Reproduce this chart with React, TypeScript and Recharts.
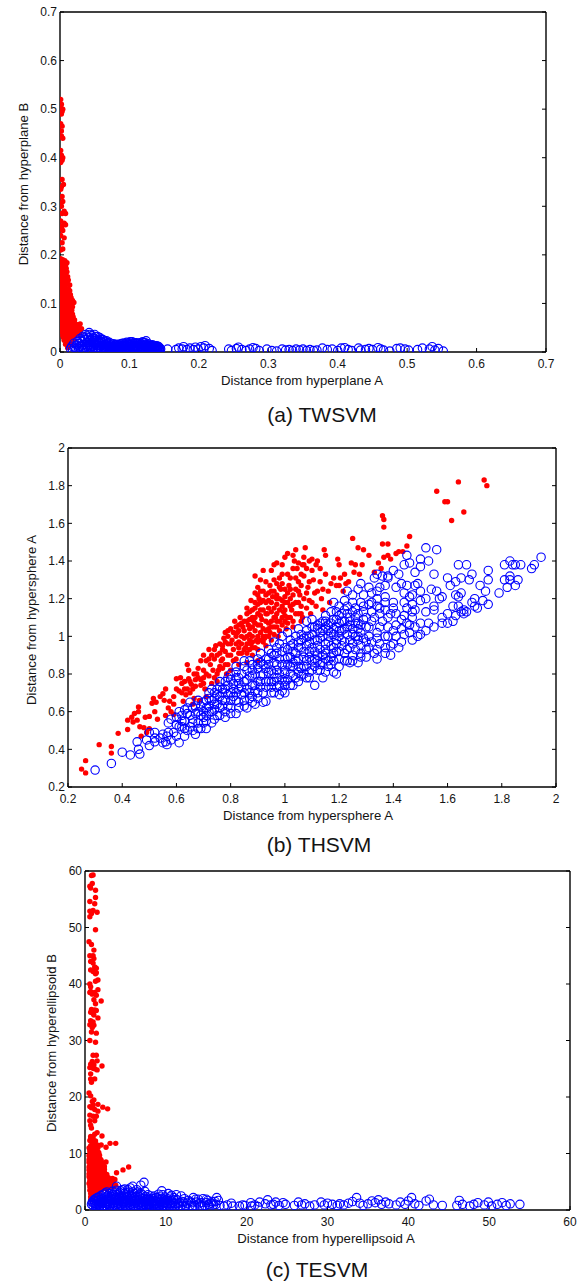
import { Scatter, ScatterChart, XAxis, YAxis } from 'recharts';

type Pair = number[];

const twsvmTicks = [0, 0.1, 0.2, 0.3, 0.4, 0.5, 0.6, 0.7];
const thsvmTicks = [0.2, 0.4, 0.6, 0.8, 1, 1.2, 1.4, 1.6, 1.8, 2];
const tesvmTicks = [0, 10, 20, 30, 40, 50, 60];

// values
const twsvmRed: Pair[] = [
  [.001,.52],[.002,.51],[.001,.505],[.003,.495],[.002,.49],[.004,.5],[.001,.47],[.003,.465],[.002,.455],[.004,.44],[.002,.445],
  [.001,.415],[.002,.405],[.003,.395],[.001,.39],[.004,.4],[.003,.355],[.002,.34],[.005,.345],[.001,.335],[.003,.32],[.001,.305],
  [.004,.31],[.002,.3],[.006,.29],[.003,.285],[.008,.285],[.001,.27],[.003,.26],[.006,.265],[.008,.262],[.002,.255],[.004,.25],
  [.001,.24],[.006,.235],[.003,.225],[.004,.212],[.001,.21],[.001,.192],[.004,.19],[.007,.188],[.01,.184],[.003,.18],[.006,.176],
  [.009,.172],[.001,.17],[.004,.165],[.008,.16],[.011,.155],[.002,.158],[.006,.15],[.012,.148],[.001,.148],[.004,.142],[.009,.143],
  [.002,.135],[.007,.135],[.012,.13],[.001,.128],[.005,.126],[.01,.122],[.003,.118],[.007,.118],[.012,.115],[.001,.112],[.016,.112],
  [.018,.106],[.014,.104],[.02,.102],[.005,.108],[.009,.107],[.016,.098],[.002,.1],[.007,.098],[.012,.096],[.001,.09],[.004,.09],
  [.009,.088],[.014,.086],[.017,.086],[.002,.082],[.006,.08],[.011,.078],[.001,.072],[.004,.07],[.008,.07],[.013,.07],[.019,.072],
  [.016,.064],[.002,.064],[.006,.06],[.011,.06],[.021,.06],[.025,.056],[.029,.058],[.001,.054],[.004,.05],[.008,.05],[.013,.05],
  [.018,.052],[.022,.05],[.027,.05],[.031,.048],[.002,.042],[.006,.04],[.01,.04],[.015,.042],[.02,.042],[.025,.042],[.029,.04],
  [.004,.034],[.008,.03],[.012,.032],[.017,.034],[.022,.034],[.006,.024],[.01,.022],[.014,.024],[.019,.026],[.008,.016],[.012,.012],
  [.016,.016],[.011,.009],
];
const twsvmRedCore: Pair[] = [
  [.002,.186],[.005,.182],[.008,.178],[.003,.172],[.006,.168],[.01,.165],[.002,.164],[.005,.158],[.009,.152],[.003,.15],[.007,.144],[.011,.14],[.014,.138],
  [.003,.138],[.005,.133],[.009,.13],[.014,.126],[.002,.124],[.007,.124],[.011,.118],[.015,.118],[.004,.114],[.008,.112],[.013,.109],[.017,.103],[.003,.105],
  [.006,.103],[.01,.1],[.014,.094],[.018,.093],[.003,.095],[.007,.092],[.011,.09],[.015,.08],[.005,.084],[.009,.082],[.013,.076],[.018,.078],[.003,.077],[.007,.075],
  [.011,.068],[.015,.072],[.021,.066],[.004,.063],[.008,.064],[.014,.058],[.018,.06],[.023,.053],[.003,.048],[.006,.052],[.011,.054],[.016,.046],[.02,.047],[.024,.046],
  [.004,.044],[.008,.044],[.012,.044],[.007,.036],[.01,.034],[.015,.036],[.019,.036],[.026,.037],[.005,.03],[.009,.026],[.013,.027],[.017,.03],
];
const twsvmBlue: Pair[] = [
  [.015,.007],[.018,.004],[.022,.003],[.017,.012],[.021,.01],[.02,.018],[.024,.014],[.025,.022],[.027,.008],[.028,.018],[.029,.028],
  [.03,.003],[.031,.012],[.032,.022],[.033,.032],[.034,.007],[.035,.016],[.036,.026],[.037,.036],[.038,.004],[.039,.012],[.04,.02],
  [.041,.03],[.042,.04],[.043,.008],[.044,.016],[.045,.026],[.046,.034],[.047,.003],[.048,.012],[.049,.02],[.05,.036],[.05,.028],
  [.051,.006],[.052,.014],[.053,.024],[.054,.032],[.055,.004],[.056,.01],[.057,.018],[.058,.027],[.059,.022],[.06,.006],[.061,.014],
  [.062,.025],[.063,.019],[.064,.003],[.065,.009],[.066,.016],[.067,.023],[.068,.005],[.069,.012],[.07,.018],[.071,.003],[.072,.009],
  [.073,.014],[.074,.006],[.075,.011],[.076,.004],[.077,.008],[.078,.013],[.079,.003],[.08,.007],[.081,.012],[.082,.016],[.083,.004],
  [.084,.009],[.085,.014],[.086,.006],[.087,.011],[.088,.017],[.089,.003],[.09,.008],[.091,.013],[.092,.018],[.093,.005],[.094,.01],
  [.095,.015],[.096,.02],[.097,.003],[.098,.008],[.099,.013],[.1,.018],[.101,.006],[.102,.011],[.103,.016],[.104,.021],[.105,.004],
  [.106,.009],[.107,.014],[.108,.019],[.109,.006],[.11,.012],[.111,.017],[.112,.004],[.113,.009],[.114,.014],[.115,.019],[.116,.006],
  [.117,.011],[.118,.016],[.119,.021],[.12,.004],[.121,.009],[.122,.014],[.123,.019],[.124,.023],[.125,.007],[.126,.012],[.127,.017],
  [.128,.004],[.129,.009],[.13,.014],[.131,.006],[.132,.011],[.133,.015],[.134,.004],[.135,.008],[.136,.012],[.137,.005],[.138,.009],
  [.139,.013],[.14,.004],[.141,.008],[.142,.011],[.143,.005],[.144,.008],[.145,.006],[.155,.006],[.167,.005],[.171,.008],[.176,.006],
  [.178,.011],[.183,.005],[.187,.008],[.192,.005],[.195,.01],[.199,.006],[.203,.011],[.207,.008],[.209,.013],[.215,.007],[.219,.003],
  [.243,.006],[.247,.003],[.254,.007],[.257,.01],[.262,.005],[.268,.003],[.273,.006],[.278,.009],[.282,.007],[.287,.003],[.298,.006],
  [.305,.003],[.312,.002],[.32,.006],[.325,.004],[.33,.005],[.335,.003],[.34,.006],[.345,.004],[.35,.006],[.355,.003],[.36,.005],
  [.365,.003],[.37,.004],[.378,.008],[.385,.005],[.392,.006],[.4,.003],[.405,.008],[.41,.009],[.415,.005],[.42,.003],[.43,.008],
  [.433,.004],[.44,.005],[.445,.007],[.45,.005],[.458,.009],[.462,.006],[.466,.004],[.475,.002],[.485,.007],[.49,.008],[.497,.006],
  [.502,.004],[.515,.005],[.522,.008],[.532,.006],[.536,.011],[.54,.004],[.545,.007],[.552,.002],
];
const twsvmBlueCore: Pair[] = [
  [.023,.007],[.026,.017],[.028,.012],[.03,.024],[.032,.005],[.033,.015],[.035,.029],[.036,.01],[.038,.019],[.039,.033],[.04,.007],[.041,.015],
  [.042,.024],[.043,.036],[.044,.004],[.045,.011],[.046,.021],[.047,.029],[.048,.008],[.049,.016],[.05,.024],[.051,.032],[.052,.009],[.053,.019],
  [.054,.005],[.055,.014],[.056,.022],[.057,.03],[.058,.007],[.059,.013],[.06,.02],[.061,.026],[.062,.01],[.063,.006],[.064,.015],[.065,.022],
  [.066,.004],[.067,.011],[.068,.018],[.069,.007],[.07,.013],[.071,.02],[.072,.005],[.073,.01],[.074,.016],[.075,.007],[.076,.012],[.077,.017],
  [.078,.005],[.079,.01],[.08,.015],[.081,.004],[.082,.009],[.083,.013],[.084,.006],[.085,.011],[.086,.016],[.087,.004],[.088,.008],[.089,.013],
  [.09,.018],[.091,.006],[.092,.011],[.093,.016],[.094,.004],[.095,.008],[.096,.013],[.097,.018],[.098,.005],[.099,.01],[.1,.015],[.101,.021],
  [.102,.007],[.103,.012],[.104,.018],[.105,.005],[.106,.011],[.107,.017],[.108,.008],[.109,.013],[.11,.019],[.111,.005],[.112,.01],[.113,.016],
  [.114,.006],[.115,.012],[.116,.017],[.117,.004],[.118,.009],[.119,.014],[.12,.019],[.121,.006],[.122,.012],[.123,.016],[.124,.004],[.125,.01],
  [.126,.015],[.127,.007],[.128,.012],[.129,.005],[.13,.01],[.131,.013],[.132,.005],[.133,.009],[.134,.013],[.135,.006],[.136,.01],[.137,.007],
  [.138,.012],[.139,.005],[.14,.009],[.141,.012],[.142,.006],[.144,.004],
];

const thsvmRed: Pair[] = [
  [.25,.295],[.265,.275],[.265,.34],[.315,.425],[.36,.415],[.36,.38],[.385,.485],[.42,.505],[.42,.555],[.435,.57],[.445,.59],[.46,.6],
  [.46,.625],[.455,.555],[.44,.545],[.47,.47],[.465,.52],[.48,.515],[.49,.49],[.5,.51],[.485,.57],[.5,.575],[.52,.6],[.53,.56],[.51,.645],
  [.525,.65],[.515,.67],[.54,.68],[.55,.695],[.56,.72],[.555,.66],[.57,.62],[.58,.6],[.56,.58],[.59,.585],[.575,.655],[.59,.68],[.6,.72],
  [.6,.775],[.615,.78],[.62,.75],[.63,.72],[.635,.69],[.65,.7],[.625,.655],[.66,.64],[.665,.67],[.645,.82],[.64,.85],[.645,.775],[.655,.745],
  [.67,.735],[.675,.8],[.68,.83],[.665,.8],[.69,.77],[.7,.75],[.705,.72],[.71,.68],[.685,.66],[.69,.87],[.7,.9],[.72,.93],[.71,.87],[.725,.85],
  [.735,.82],[.74,.78],[.75,.76],[.755,.82],[.745,.95],[.76,.96],[.77,.93],[.75,.9],[.765,.87],[.78,.85],[.785,.8],[.79,.9],[.775,.99],
  [.78,1.02],[.79,.96],[.8,1.04],[.805,.98],[.81,.93],[.82,.88],[.815,1.08],[.825,1.02],[.83,.97],[.84,.91],[.845,1.05],[.835,1.1],[.85,.99],
  [.855,.94],[.86,1.12],[.865,1.06],[.87,1.01],[.875,.96],[.88,.9],[.86,1.15],[.88,1.14],[.885,1.08],[.89,1.03],[.895,.98],[.9,.93],[.875,1.19],
  [.89,1.23],[.905,1.2],[.91,1.14],[.915,1.09],[.92,1.04],[.925,.99],[.93,.95],[.9,1.26],[.91,1.3],[.92,1.24],[.93,1.18],[.935,1.12],[.94,1.07],
  [.945,1.02],[.95,.98],[.93,1.29],[.945,1.27],[.955,1.21],[.96,1.15],[.965,1.1],[.97,1.05],[.975,1.0],[.89,1.32],[.92,1.35],[.95,1.35],[.96,1.3],
  [.98,1.31],[.985,1.25],[.99,1.19],[.995,1.13],[1.0,1.08],[1.005,1.04],[.97,1.39],[.99,1.38],[1.0,1.42],[1.01,1.44],[1.01,1.33],[1.015,1.27],
  [1.02,1.2],[1.025,1.14],[1.03,1.08],[1.035,1.4],[1.04,1.46],[1.045,1.36],[1.05,1.29],[1.055,1.22],[1.06,1.16],[1.065,1.1],[1.065,1.38],[1.07,1.32],
  [1.075,1.47],[1.08,1.36],[1.085,1.26],[1.09,1.19],[1.095,1.12],[1.09,1.4],[1.1,1.35],[1.105,1.3],[1.11,1.23],[1.115,1.16],[1.115,1.38],[1.12,1.4],
  [1.13,1.29],[1.135,1.2],[1.14,1.14],[1.145,1.46],[1.15,1.43],[1.15,1.33],[1.16,1.24],[1.165,1.18],[1.18,1.31],[1.19,1.27],[1.195,1.41],[1.2,1.38],
  [1.205,1.31],[1.215,1.24],[1.225,1.28],[1.235,1.29],[1.245,1.39],[1.25,1.52],[1.255,1.34],[1.26,1.38],[1.27,1.47],[1.275,1.33],[1.285,1.38],
  [1.29,1.46],[1.31,1.43],[1.33,1.34],[1.345,1.39],[1.355,1.36],[1.36,1.64],[1.365,1.62],[1.365,1.58],[1.36,1.49],[1.38,1.49],[1.365,1.42],[1.38,1.43],
  [1.39,1.41],[1.41,1.44],[1.42,1.45],[1.435,1.45],[1.45,1.48],[1.46,1.53],[1.56,1.77],[1.59,1.715],[1.6,1.715],[1.64,1.82],[1.735,1.83],
  [1.745,1.8],[1.66,1.66],[1.615,1.615],[.8,.82],[.83,.85],[.86,.86],[.88,.97],[.9,.87],[.91,.98],[.95,1.13],[.97,1.17],[.98,1.08],[.99,1.28],
  [1.02,1.31],[1.04,1.25],[1.06,1.33],[1.08,1.23],[.84,1.0],[.87,1.09],[.83,1.06],[.82,.96],[.91,1.18],[.94,1.23],[.93,1.08],[.97,1.22],[1.0,1.18],
];
const thsvmRedCore: Pair[] = [
  [.77,.95],[.79,1.0],[.8,.9],[.81,1.02],[.82,1.05],[.83,.91],[.84,.96],[.85,1.08],[.86,1.0],[.86,.91],[.87,1.04],[.87,1.13],[.88,.94],[.88,1.05],
  [.89,1.18],[.89,1.1],[.9,1.0],[.9,1.06],[.9,1.17],[.91,1.24],[.91,1.06],[.92,1.14],[.92,.97],[.93,1.03],[.93,1.22],[.94,1.15],[.94,1.0],[.95,1.08],
  [.95,1.18],[.96,1.05],[.96,1.24],[.97,1.12],[.97,1.28],[.98,1.03],[.98,1.2],[.99,1.1],[.99,1.33],[1.0,1.25],[1.0,1.14],[1.01,1.07],[1.01,1.18],
  [1.02,1.1],[1.02,1.25],[1.03,1.36],[1.03,1.17],[1.04,1.12],[1.04,1.31],[1.05,1.18],[1.06,1.27],[1.06,1.12],[1.07,1.2],[1.07,1.38],[1.08,1.15],
  [.74,.88],[.73,.9],[.72,.88],[.76,.84],[.77,.88],[.78,.92],[.79,.85],[.68,.78],[.66,.72],[.7,.82],[.72,.79],[.73,.75],[.63,.76],[.61,.71],[.59,.64],
  [1.1,1.18],[1.12,1.24],[1.13,1.36],[1.14,1.25],[1.17,1.28],[1.2,1.27],[1.22,1.33],[1.09,1.29],[1.1,1.41],[1.07,1.42],[1.05,1.39],[1.03,1.43],[.96,1.38],
  [.74,.93],[.76,.91],[.77,.83],[.78,.97],[.79,1.03],[.8,.96],[.81,.87],[.82,1.0],[.83,1.03],[.83,.94],[.84,1.07],[.85,.93],[.85,1.03],[.86,.96],[.86,1.08],[.87,.98],
  [.87,.93],[.88,1.1],[.88,1.0],[.89,.94],[.89,1.07],[.89,1.15],[.9,1.12],[.9,.97],[.9,1.22],[.91,1.02],[.91,1.11],[.92,1.0],[.92,1.19],[.93,1.12],[.93,1.0],[.94,1.04],
  [.94,1.19],[.95,1.05],[.95,1.24],[.96,1.1],[.96,1.01],[.97,1.08],[.97,1.2],[.98,1.14],[.98,1.26],[.99,1.06],[.99,1.16],[1.0,1.11],[1.0,1.21],[1.01,1.1],[1.01,1.23],
  [1.02,1.16],[1.03,1.05],[1.03,1.22],[1.04,1.18],[1.05,1.12],[1.05,1.24],[1.06,1.08],[.7,.78],[.71,.8],[.69,.74],[.67,.77],[.65,.76],[.62,.7],[.64,.72],[.75,.8],
];
const thsvmBlue: Pair[] = [
  [.3,.29],[.36,.325],[.4,.385],[.43,.37],[.465,.375],[.46,.4],[.455,.44],[.5,.42],[.49,.45],[.5,.49],[.52,.49],[.52,.46],[.55,.435],[.565,.425],
  [.56,.44],[.565,.47],[.57,.49],[.61,.435],[.6,.47],[.63,.47],[.57,.54],[.61,.52],[.62,.55],[.64,.5],[.67,.48],[.65,.52],[.71,.51],[.69,.51],
  [.73,.54],[.7,.54],[.68,.54],[.66,.56],[.64,.59],[.62,.58],[.61,.6],[.66,.62],[.69,.58],[.72,.6],[.7,.65],[.75,.58],[.78,.6],[.82,.59],[.76,.62],
  [.8,.62],[.74,.64],[.72,.67],[.74,.7],[.77,.66],[.79,.69],[.82,.66],[.86,.62],[.89,.64],[.92,.65],[.93,.655],[.87,.67],[.85,.7],[.84,.73],[.81,.75],
  [.78,.76],[.76,.73],[.8,.8],[.83,.78],[.86,.77],[.89,.74],[.9,.7],[.96,.7],[.98,.69],[1.0,.7],[.95,.73],[.93,.76],[.91,.79],[.88,.82],[.85,.84],
  [.82,.84],[.87,.87],[.9,.85],[.93,.83],[.96,.8],[.99,.77],[1.02,.74],[1.05,.76],[1.08,.78],[1.11,.74],[1.03,.79],[1.0,.82],[.97,.85],[.94,.88],
  [.91,.91],[.94,.93],[.97,.91],[1.0,.88],[1.03,.86],[1.06,.83],[1.09,.81],[1.14,.78],[1.18,.81],[1.19,.8],[1.16,.84],[1.13,.85],[1.1,.87],[1.07,.89],
  [1.04,.91],[1.01,.93],[.98,.96],[.96,.97],[.99,1.0],[1.01,1.02],[1.04,1.0],[1.03,.96],[1.06,.94],[1.09,.92],[1.12,.9],[1.15,.88],[1.2,.84],[1.22,.87],
  [1.24,.86],[1.27,.86],[1.3,.89],[1.34,.88],[1.39,.9],[1.28,.91],[1.25,.9],[1.23,.93],[1.2,.92],[1.18,.91],[1.15,.93],[1.12,.95],[1.09,.97],[1.07,.99],
  [1.05,1.04],[1.08,1.03],[1.1,1.01],[1.13,.99],[1.16,.97],[1.19,.96],[1.22,.97],[1.25,.96],[1.28,.95],[1.31,.94],[1.34,.93],[1.37,.94],[1.4,.96],
  [1.43,.97],[1.26,1.0],[1.23,1.01],[1.2,1.0],[1.17,1.02],[1.14,1.03],[1.11,1.05],[1.08,1.08],[1.1,1.09],[1.13,1.07],[1.16,1.06],[1.19,1.05],[1.22,1.04],
  [1.25,1.04],[1.28,1.02],[1.31,1.0],[1.34,.99],[1.37,1.0],[1.4,1.03],[1.43,1.04],[1.46,1.02],[1.47,.98],[1.5,1.01],[1.52,1.03],[1.55,1.05],[1.48,1.05],
  [1.45,1.07],[1.43,1.09],[1.3,1.05],[1.27,1.07],[1.24,1.08],[1.21,1.08],[1.18,1.09],[1.15,1.11],[1.17,1.13],[1.2,1.11],[1.23,1.12],[1.26,1.1],[1.29,1.09],
  [1.32,1.08],[1.35,1.05],[1.38,1.05],[1.41,1.06],[1.44,1.11],[1.47,1.1],[1.5,1.07],[1.53,1.07],[1.58,1.07],[1.6,1.07],[1.62,1.08],[1.58,1.1],[1.6,1.12],
  [1.63,1.11],[1.65,1.13],[1.67,1.13],[1.66,1.12],[1.55,1.14],[1.52,1.13],[1.48,1.14],[1.45,1.15],[1.41,1.12],[1.38,1.1],[1.35,1.12],[1.32,1.13],[1.29,1.13],
  [1.26,1.15],[1.23,1.16],[1.2,1.16],[1.18,1.18],[1.22,1.19],[1.25,1.18],[1.28,1.18],[1.31,1.17],[1.34,1.16],[1.37,1.14],[1.4,1.15],[1.44,1.18],[1.47,1.17],
  [1.5,1.19],[1.52,1.2],[1.55,1.16],[1.57,1.2],[1.62,1.16],[1.64,1.16],[1.66,1.14],[1.7,1.16],[1.71,1.15],[1.75,1.17],[1.73,1.19],[1.7,1.2],[1.69,1.18],
  [1.79,1.23],[1.74,1.24],[1.72,1.27],[1.82,1.26],[1.85,1.27],[1.81,1.3],[1.83,1.32],[1.86,1.3],[1.83,1.3],[1.85,1.38],[1.87,1.38],[1.83,1.4],[1.81,1.38],
  [1.84,1.38],[1.91,1.36],[1.92,1.38],[1.945,1.42],[1.75,1.3],[1.75,1.35],[1.69,1.33],[1.68,1.3],[1.65,1.31],[1.63,1.29],[1.61,1.27],[1.65,1.23],[1.63,1.22],
  [1.64,1.21],[1.6,1.31],[1.55,1.33],[1.64,1.38],[1.67,1.38],[1.56,1.46],[1.52,1.47],[1.53,1.4],[1.5,1.41],[1.5,1.37],[1.46,1.39],[1.45,1.43],[1.48,1.34],
  [1.44,1.38],[1.42,1.33],[1.4,1.35],[1.43,1.28],[1.45,1.27],[1.41,1.26],[1.38,1.31],[1.37,1.27],[1.48,1.27],[1.49,1.28],[1.47,1.22],[1.44,1.23],[1.4,1.18],
  [1.37,1.21],[1.34,1.2],[1.35,1.26],[1.32,1.23],[1.29,1.22],[1.28,1.28],[1.31,1.26],[1.33,1.31],[1.34,1.33],[1.36,1.32],[1.38,1.32],[1.27,1.25],[1.25,1.22],
  [1.23,1.24],[1.5,1.24],[1.54,1.25],[1.56,1.24],[1.58,1.21],[.58,.56],[.6,.57],[.63,.61],[.65,.65],[.67,.59],[.71,.62],[.73,.66],[.75,.69],[.77,.72],[.73,.72],
  [.79,.74],[.83,.72],[.8,.77],[.82,.81],[.88,.79],[.91,.76],[.95,.76],[.85,.87],[.9,.88],[.92,.85],[.94,.81],[.97,.78],[1.0,.76],[1.02,.8],[1.05,.81],[1.07,.84],
  [1.03,.84],[1.01,.85],[.98,.88],[.96,.9],[.99,.92],[1.02,.89],[1.05,.88],[1.08,.87],[1.11,.84],[1.12,.82],[1.15,.81],[1.02,.95],[1.05,.97],[1.08,.95],[1.11,.92],
  [1.14,.9],[1.17,.89],[1.06,1.01],[1.09,1.0],[1.12,.98],[1.15,.96],[1.18,.94],[1.21,.95],[1.24,.98],[1.27,.98],[1.3,.97],[1.13,1.02],[1.16,1.0],[1.19,.98],[1.12,1.06],
  [1.15,1.05],[1.18,1.04],[1.21,1.03],[1.14,1.08],[1.17,1.07],[1.2,1.07],[1.24,1.06],[1.27,1.04],[1.19,1.13],[1.22,1.14],[1.25,1.13],
];
const thsvmBlueCore: Pair[] = [
  [.62,.52],[.63,.55],[.64,.62],[.65,.58],[.66,.54],[.67,.63],[.68,.6],[.68,.66],[.69,.63],[.7,.57],[.7,.6],[.71,.66],[.71,.58],[.72,.63],[.72,.7],[.73,.6],
  [.74,.67],[.74,.61],[.75,.64],[.75,.72],[.76,.68],[.76,.76],[.77,.63],[.77,.7],[.78,.72],[.78,.66],[.79,.78],[.79,.63],[.8,.7],[.8,.66],[.81,.72],[.81,.68],[.82,.78],
  [.82,.7],[.83,.75],[.83,.65],[.84,.8],[.84,.69],[.85,.76],[.85,.66],[.86,.82],[.86,.72],[.87,.79],[.87,.7],[.88,.85],[.88,.74],[.88,.68],[.89,.8],[.89,.71],[.9,.83],
  [.9,.76],[.9,.67],[.91,.86],[.91,.73],[.92,.8],[.92,.7],[.93,.88],[.93,.73],[.94,.85],[.94,.76],[.95,.91],[.95,.82],[.95,.7],[.96,.86],[.96,.76],[.97,.94],[.97,.82],
  [.97,.73],[.98,.8],[.98,.74],[.99,.85],[.99,.71],[1.0,.94],[1.0,.8],[1.0,.74],[1.01,.89],[1.01,.77],[1.02,.98],[1.02,.84],[1.03,.92],[1.03,.74],[1.04,.87],[1.04,.78],
  [1.05,.94],[1.05,.84],[1.06,.98],[1.06,.79],[1.07,.92],[1.07,.8],[1.08,1.0],[1.08,.84],[1.09,.89],[1.09,.78],[1.1,1.05],[1.1,.94],[1.1,.82],[1.11,.98],[1.11,.88],
  [1.12,1.04],[1.12,.87],[1.13,.93],[1.13,.82],[1.14,1.0],[1.14,.86],[1.15,1.08],[1.15,.91],[1.16,1.03],[1.16,.87],[1.17,.95],[1.17,.85],[1.18,1.01],[1.18,.87],[1.19,1.09],
  [1.19,.92],[1.2,1.03],[1.2,.88],[1.21,1.12],[1.21,.98],[1.22,1.08],[1.22,.91],[1.23,1.05],[1.23,.87],[1.24,1.1],[1.24,.94],[1.25,1.01],[1.25,.87],[1.26,1.07],[1.26,.93],
  [1.27,1.12],[1.27,1.0],[1.28,1.06],[1.28,.89],[1.29,1.16],[1.29,.99],[1.3,1.1],[1.3,.93],[1.31,1.05],[1.32,1.18],[1.32,.97],[1.33,1.1],[1.33,.91],[1.34,1.02],[1.35,1.15],
  [1.35,.96],[1.36,1.08],[1.37,1.18],[1.37,.91],[1.38,1.0],[1.39,1.12],[1.39,.95],[1.41,1.0],[1.42,.94],[1.44,1.01],[1.46,1.06],[1.47,1.13],[1.49,1.0],[1.46,1.21],[1.34,1.24],
  [.52,.44],[.54,.46],[.55,.48],[.58,.45],[.59,.49],[.6,.53],[.63,.51],[.66,.5],[.68,.51],[.71,.55],[.74,.56],[.76,.58],[.78,.57],[.8,.59],[.83,.62],[.85,.63],[.88,.65],
];

const tesvmRed: Pair[] = [
  [.8,59.2],[1,59.3],[.6,57.3],[.9,57.8],[.7,57],[1.3,56.6],[.6,54.6],[1.3,55.3],[1.2,54.2],[.6,52.9],[1,53],[.8,52.5],[.6,51.9],[1.5,52.7],[1.3,49.6],
  [.5,47.5],[.8,47],[1.1,46],[.6,45],[1,45],[1.1,44.5],[.7,44],[1,43.7],[1.2,43],[1.4,42.8],[.7,42.5],[1,42.2],[1.4,42],[1.3,41.8],[1.6,40.7],[1.3,40.5],[.6,40],
  [.7,39.5],[1.6,39],[.6,38.5],[.9,38.2],[1.2,38.5],[1.4,38],[.7,38.7],[2,37],[1.1,37.2],[1.3,36.5],[.8,35.5],[1.2,35.4],[1.4,35.3],[.7,35],[1,34.8],[1.1,34.5],
  [1.6,34],[.7,33.5],[1,33.3],[.6,32.8],[1.1,32.7],[.9,32.3],[.8,31.5],[1.4,31.3],[.6,30],[1.3,29.7],[1,27.4],[1.4,27.4],[.9,26.3],[1.5,26.4],[.7,25.8],[1.1,25.7],
  [2.1,25.5],[.6,25.2],[1,25.1],[1.2,25],[1.5,24.8],[.7,24.1],[.7,23.2],[1.2,23.2],[.8,22.6],[.5,20.7],[.7,20.2],[1.1,19.5],[.9,19.2],[1,18.6],[1.6,18.7],[.6,18.3],
  [.8,18.1],[2.2,18.2],[2.8,17.9],[1.2,17.8],[1.6,17.5],[.6,16.8],[1,16.6],[1.4,16.6],[.6,15.8],[1.2,15.8],[.7,15],[.8,14.5],[1.5,13.7],[1.2,13.4],[2.1,13.1],[.7,13],
  [1,12.8],[.6,12.3],[1.3,12.2],[3.1,11.8],[3.8,11.8],[.9,11.8],[1.5,11.5],[2,11.5],[.5,11],[.8,11],[1.2,10.9],[2.6,11.1],[.6,10.3],[1,10.4],[1.7,10.2],[.5,9.6],[.8,9.7],
  [1.2,9.6],[1.8,9.7],[.6,9],[1,8.9],[1.4,8.9],[2,8.8],[2.6,8.5],[.5,8.4],[.8,8.3],[1.2,8.2],[1.7,8.3],[5.4,7.6],[.6,7.7],[1,7.6],[1.5,7.7],[2.1,7.6],[4.7,7.1],[.5,7.1],
  [.8,7],[1.3,7],[1.8,7],[.7,6.4],[1.1,6.4],[1.6,6.4],[2.4,6.7],[3.9,6.6],[.5,5.9],[.9,5.9],[1.3,5.8],[1.8,5.9],[2.4,5.8],[.6,5.3],[1,5.3],[1.5,5.3],[2.1,5.4],[2.9,5.7],
  [3.4,5.6],[3.7,5.4],[.5,4.7],[.8,4.7],[1.2,4.7],[1.7,4.7],[2.3,4.8],[2.9,4.9],[3.3,4.8],[.6,4.1],[1,4.1],[1.4,4.1],[2,4.2],[2.6,4.3],[3.2,4.2],[3.8,4.4],[.6,3.5],[1,3.5],
  [1.5,3.6],[2.1,3.7],[2.7,3.7],[.7,2.9],[1.1,2.9],[1.6,3],[.7,2.3],[1.1,2.4],[.7,1.8],
];
const tesvmRedCore: Pair[] = [
  [.7,12.6],[1,12.2],[1.3,11.6],[.7,11.4],[1.1,11.2],[1.6,11],[.6,10.7],[.9,10.6],[1.3,10.3],[1.5,9.9],[.7,10],[1.1,9.9],[.9,9.4],[1.4,9.4],[1.6,9.1],[.7,9.2],[1.2,9],[1.9,9],
  [.5,8.9],[.9,8.6],[1.5,8.4],[2.2,8.3],[.7,8],[1.1,7.8],[1.4,8],[1.9,7.8],[2.4,7.7],[.5,7.6],[.9,7.3],[1.3,7.4],[1.6,7.2],[2,7.1],[2.4,7.2],[.6,6.7],[.9,6.7],[1.3,6.4],[1.9,6.5],
  [2.2,6.2],[2.7,6.3],[.5,6.4],[.7,6],[1.1,5.9],[1.5,5.9],[2,6],[2.6,5.6],[3,5.3],[.8,5.4],[1.3,5.3],[1.7,5.3],[2.3,5.3],[2.7,5.1],[3.3,5.2],[.6,4.9],[1,4.8],[1.5,4.8],[2,4.9],[2.6,4.7],
  [3.1,4.6],[3.5,4.6],[.8,4.4],[1.2,4.4],[1.7,4.4],[2.3,4.4],[2.9,4.3],[3.5,4.1],[.8,3.9],[1.2,3.9],[1.8,3.9],[2.4,3.9],[.8,3.3],[1.3,3.3],[1.8,3.4],[.9,2.7],[1.4,2.8],[.9,2.1],
];
const tesvmBlue: Pair[] = [
  [.8,1],[.9,1.4],[1,.8],[1.1,1.8],[1.2,1.1],[1.3,.7],[1.4,1.5],[1.5,2.2],[1.6,.9],[1.7,1.3],[1.8,.6],[1.9,1.8],[2,2.6],[2.1,1.1],[2.2,.7],[2.3,1.6],[2.4,2.3],[2.5,3],
  [2.6,.8],[2.7,1.2],[2.8,1.9],[2.9,2.6],[3,.6],[3.1,1.1],[3.2,1.7],[3.3,2.4],[3.4,3.3],[3.5,.9],[3.6,1.4],[3.7,2.1],[3.8,2.8],[3.9,4.2],[4,.6],[4.1,1.2],[4.2,1.8],[4.3,2.5],
  [4.4,3.4],[4.5,.8],[4.6,1.4],[4.7,2.1],[4.8,2.9],[4.9,3.7],[5,.6],[5.1,1.1],[5.2,1.7],[5.3,2.4],[5.4,3.2],[5.5,.9],[5.6,1.4],[5.7,2],[5.8,2.8],[5.9,4.2],[6,.6],[6.1,1.1],
  [6.2,1.7],[6.3,2.4],[6.4,3.6],[6.5,.8],[6.6,1.3],[6.7,1.9],[6.8,2.7],[6.9,4.4],[7,.6],[7.1,1.1],[7.2,1.6],[7.3,4.9],[7.4,2.1],[7.5,.8],[7.6,1.3],[7.7,1.8],[7.8,2.7],[7.9,.6],
  [8,1],[8.1,1.5],[8.2,2.1],[8.3,.7],[8.4,1.2],[8.5,1.7],[8.6,2.5],[8.7,.6],[8.8,1],[8.9,1.5],[9,2.1],[9.1,2.8],[9.2,.8],[9.3,1.3],[9.4,1.9],[9.5,3.4],[9.6,.6],[9.7,1.1],[9.8,1.6],
  [9.9,2.3],[10,.8],[10.1,1.3],[10.2,2],[10.3,2.9],[10.4,.6],[10.5,1.1],[10.6,1.7],[10.7,2.6],[10.8,.8],[10.9,1.4],[11,2.2],[11.1,.6],[11.2,1.1],[11.4,1.8],[11.6,.7],[11.7,1.3],
  [11.9,2.5],[12,.8],[12.2,1.4],[12.4,.7],[12.6,1.2],[12.8,1.7],[13,.8],[13.2,1.3],[13.4,2.2],[13.6,.8],[13.8,1.4],[14,1.9],[14.2,.7],[14.4,1.3],[14.6,2],[14.8,.8],[15,1.3],[15.2,1.7],
  [15.4,.7],[15.6,1.2],[15.9,.9],[16.1,1.5],[16.3,2.2],[16.5,1.7],[16.7,.8],[17.2,.7],[17.6,.9],[18.1,1.2],[18.3,.7],[19.1,.7],[19.5,.9],[19.8,.8],[20.5,1.3],[20.6,.7],[21,.9],[21.4,.6],
  [21.6,1.4],[22.3,1.1],[22.6,1.8],[23,.9],[23.3,1],[23.6,1.4],[24,.8],[24.5,1.3],[24.8,1],[25.9,.8],[26.4,1.4],[26.8,.9],[27.2,1.1],[27.8,.7],[28.4,.9],[29.2,1.4],[29.6,.9],[30,1.2],
  [30.6,1],[31.2,.8],[31.5,1.1],[32,.9],[32.6,1.2],[33.1,1.5],[33.6,2.2],[34,1.2],[34.4,.8],[35,1.1],[35.5,1.6],[35.9,1.3],[36.3,1.8],[36.7,1],[37.2,1.4],[37.6,1.1],[38.5,.9],[39,1.4],
  [39.6,1],[40,1.6],[40.4,2.2],[40.8,1.1],[41.3,.8],[42.2,1.6],[42.6,1.9],[43.1,.9],[44.2,.8],[46,.8],[46.3,1.7],[46.7,1],[47.6,.7],[48.1,1],[48.6,1.3],[49.4,.9],[49.9,1.4],[50.3,.7],
  [51,1],[51.6,1.3],[52.1,.8],[52.6,1.1],[53.8,1],
];
const tesvmBlueCore: Pair[] = [
  [1,1.3],[1.2,1.7],[1.3,2],[1.4,1],[1.5,.7],[1.6,1.7],[1.7,2.3],[1.8,1.1],[1.9,.8],[2,1.5],[2,2.1],[2.1,1.9],[2.2,1.2],[2.3,2.8],[2.4,.7],[2.4,1.3],[2.5,1.8],[2.6,2.3],[2.7,3.2],[2.7,.6],
  [2.8,1],[2.9,1.5],[3,2.2],[3,2.9],[3.1,.7],[3.2,1.2],[3.3,1.9],[3.4,2.7],[3.4,.6],[3.5,1.2],[3.6,1.8],[3.6,2.5],[3.7,3.2],[3.8,.7],[3.8,1.4],[3.9,2.2],[3.9,3.5],[4,1],[4,1.7],[4.1,2.8],
  [4.2,.6],[4.2,1.4],[4.3,2.1],[4.3,3.1],[4.4,.9],[4.5,1.7],[4.5,2.4],[4.6,3.6],[4.6,.6],[4.7,1.2],[4.8,1.8],[4.8,2.5],[4.9,.8],[5,1.5],[5,2.1],[5,3.1],[5.1,2.8],[5.2,.7],[5.3,1.3],[5.3,3.6],
  [5.4,1.9],[5.5,2.6],[5.6,.6],[5.6,3.9],[5.7,1],[5.8,1.7],[5.8,2.3],[5.9,3.2],[6,.8],[6,1.4],[6.1,2.1],[6.2,2.9],[6.2,.6],[6.3,1.2],[6.4,1.9],[6.5,2.5],[6.5,3.2],[6.6,.6],[6.7,1],[6.7,1.6],
  [6.8,2.3],[6.9,.8],[6.9,3],[7,1.4],[7.1,2],[7.1,2.7],[7.2,.6],[7.3,1],[7.4,1.5],[7.4,3.3],[7.5,2.4],[7.6,.6],[7.7,1],[7.8,1.5],[7.8,2.1],[7.9,1],[8,.6],[8,1.8],[8.1,2.5],[8.2,.9],[8.3,1.3],
  [8.4,2],[8.5,.7],[8.6,1.1],[8.7,1.6],[8.8,2.2],[8.9,.8],[9,1.2],[9.1,1.8],[9.2,.6],[9.3,2.3],[9.4,1],[9.5,1.5],[9.6,2.7],[9.7,.8],[9.8,1.2],[10,1.8],[10.1,.6],[10.2,1.1],[10.3,1.6],[10.5,2.3],
  [10.6,.8],[10.8,1.2],[11,1.8],[11.2,.7],[11.3,2.7],[11.5,1.1],[11.8,.6],[12,1.5],[12.3,2],[12.5,.8],[13,1.5],[13.3,.7],[13.7,1.9],[14.1,1.1],[14.5,.7],[15,1.9],[15.3,1],[15.7,1.5],[16.2,1],
];

const FONT = '"Liberation Sans", Arial, sans-serif';
const INK = '#141414';

function RedDot(props: any) {
  return <circle cx={props.cx} cy={props.cy} r={2.7} fill="#ff0000" />;
}

function BlueRing(props: any) {
  return <circle cx={props.cx} cy={props.cy} r={4.2} fill="none" stroke="#0000ff" strokeWidth={1.1} />;
}

function toPoints(pairs: Pair[]) {
  return pairs.map(([x, y]) => ({ x, y }));
}

function Panel(props: any) {
  const { top, left, right, height, ticks, xLabel, yLabel, red, blue, caption, xLabelX, yLabelX, captionX, captionY } = props;
  const domain = [ticks[0], ticks[ticks.length - 1]];
  const tickStyle = { fontFamily: FONT, fontSize: 12, fill: INK };
  const axisLine = { stroke: '#000', strokeWidth: 1.4 };
  const tickLine = { stroke: '#000', strokeWidth: 1 };
  const plotW = right - left;
  const noLabel = () => '';
  return (
    <>
      <div style={{ position: 'absolute', top, left: 0 }}>
        <ScatterChart
          width={586}
          height={height + 32}
          margin={{ top: 5, right: 586 - right - 1, bottom: 25, left: 0 }}
        >
          <XAxis
            type="number"
            dataKey="x"
            domain={domain}
            ticks={ticks}
            interval={0}
            height={1}
            tickSize={-4}
            tickMargin={11}
            tick={tickStyle}
            axisLine={axisLine}
            tickLine={tickLine}
            allowDataOverflow
          />
          <XAxis
            xAxisId="top"
            orientation="top"
            type="number"
            domain={domain}
            ticks={ticks}
            interval={0}
            height={1}
            tickSize={-4}
            tickFormatter={noLabel}
            axisLine={axisLine}
            tickLine={tickLine}
            allowDataOverflow
          />
          <YAxis
            type="number"
            dataKey="y"
            domain={domain}
            ticks={ticks}
            interval={0}
            width={left}
            tickSize={-4}
            tickMargin={7}
            tick={tickStyle}
            axisLine={axisLine}
            tickLine={tickLine}
            allowDataOverflow
          />
          <YAxis
            yAxisId="right"
            orientation="right"
            type="number"
            domain={domain}
            ticks={ticks}
            interval={0}
            width={1}
            tickSize={-4}
            tickFormatter={noLabel}
            axisLine={axisLine}
            tickLine={tickLine}
            allowDataOverflow
          />
          <Scatter data={toPoints(red)} shape={RedDot} isAnimationActive={false} />
          <Scatter data={toPoints(blue)} shape={BlueRing} isAnimationActive={false} />
        </ScatterChart>
      </div>
      <div style={{ position: 'absolute', top: top + height + 27, left: xLabelX - plotW / 2, width: plotW, textAlign: 'center', fontFamily: FONT, fontSize: 13.2, color: INK, whiteSpace: 'nowrap' }}>
        {xLabel}
      </div>
      <div style={{ position: 'absolute', top: top + height / 2 + 8, left: yLabelX, width: 0, height: 0 }}>
        <div style={{ position: 'absolute', transform: 'translate(-50%, -50%) rotate(-90deg)', fontFamily: FONT, fontSize: 13.2, color: INK, whiteSpace: 'nowrap' }}>
          {yLabel}
        </div>
      </div>
      <div style={{ position: 'absolute', top: captionY, left: captionX - 150, width: 300, textAlign: 'center', fontFamily: FONT, fontSize: 21, color: INK }}>
        {caption}
      </div>
    </>
  );
}

export default function App() {
  return (
    <div style={{ position: 'absolute', top: 0, left: 0, width: 586, height: 1282, background: '#fff', overflow: 'hidden' }}>
      <Panel top={6} left={60} right={546} height={340} ticks={twsvmTicks} red={[...twsvmRed, ...twsvmRedCore]} blue={[...twsvmBlue, ...twsvmBlueCore]}
        xLabel="Distance from hyperplane A" yLabel="Distance from hyperplane B" caption="(a) TWSVM"
        xLabelX={302} yLabelX={23} captionX={322} captionY={403} />
      <Panel top={442} left={68} right={556} height={339} ticks={thsvmTicks} red={[...thsvmRed, ...thsvmRedCore]} blue={[...thsvmBlue, ...thsvmBlueCore]}
        xLabel="Distance from hypersphere A" yLabel="Distance from hypersphere A" caption="(b) THSVM"
        xLabelX={308} yLabelX={31} captionX={319} captionY={833} />
      <Panel top={865} left={85} right={570} height={339} ticks={tesvmTicks} red={[...tesvmRed, ...tesvmRedCore]} blue={[...tesvmBlue, ...tesvmBlueCore]}
        xLabel="Distance from hyperellipsoid A" yLabel="Distance from hyperellipsoid B" caption="(c) TESVM"
        xLabelX={326} yLabelX={51} captionX={317} captionY={1258} />
    </div>
  );
}
